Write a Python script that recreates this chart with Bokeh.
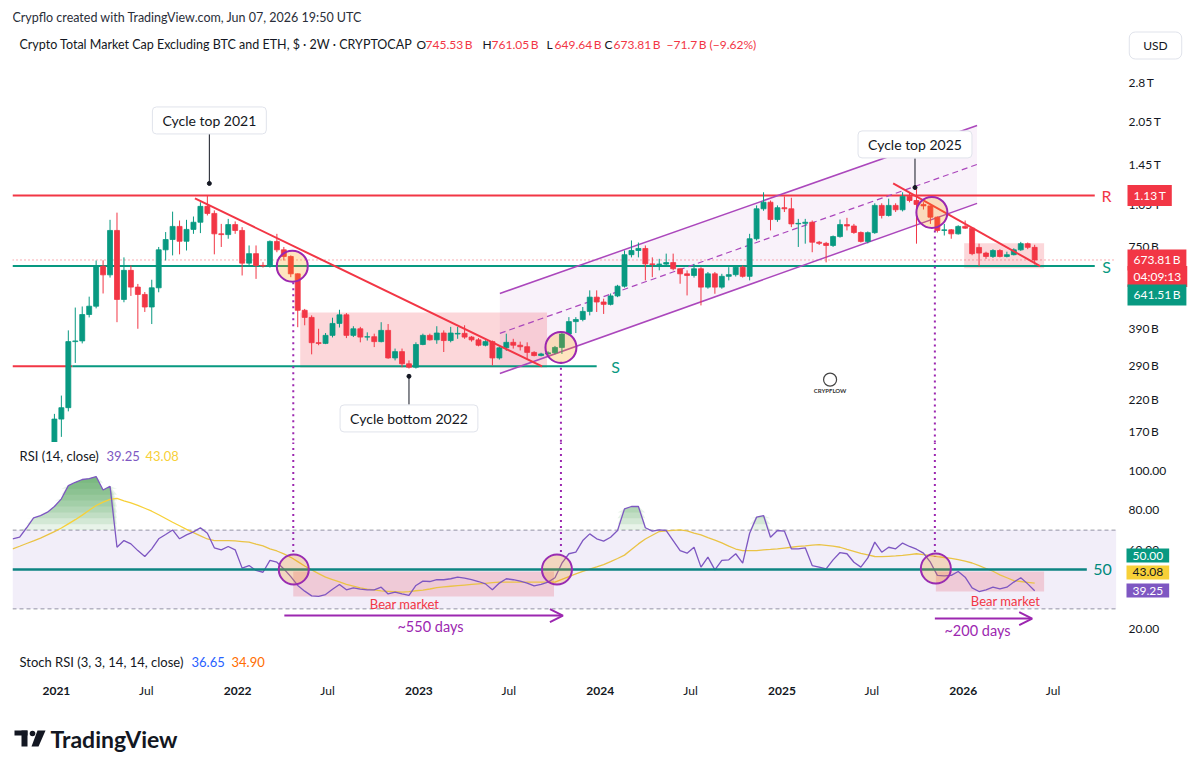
import numpy as np
import pandas as pd
from bokeh.plotting import figure
from bokeh.layouts import column
from bokeh.models import (ColumnDataSource, Range1d, FixedTicker, CustomJSTickFormatter,
                          NumeralTickFormatter, Label, BoxAnnotation, Arrow, OpenHead)
from bokeh.core.properties import value
from bokeh.embed import file_html
from bokeh.resources import INLINE

FONT = "Lato"
TXT = "#131722"
GREEN = "#089981"
RED = "#f23645"
PURPLE = "#9c27b0"
CHAN = "#ab47bc"
RSI_C = "#7e57c2"
MA_C = "#f7d038"
TEAL = "#00897b"

# ---------------- data (values in billions USD, 2-week candles) ----------------
open_ = [90, 93, 97, 108, 121, 124, 138, 188, 206, 350,
         352, 435, 465, 641, 598, 854, 491, 620, 542, 511,
         462, 539, 731, 794, 882, 783, 861, 912, 1036, 979,
         831, 826, 895, 854, 657, 709, 645, 642, 782, 731,
         693, 603, 450, 425, 347, 345, 368, 405, 434, 368,
         388, 363, 364, 350, 383, 307, 323, 293, 285, 342,
         368, 355, 375, 353, 372, 374, 363, 355, 340, 350,
         307, 333, 348, 340, 336, 321, 313, 317, 320, 334,
         372, 411, 418, 446, 500, 481, 472, 505, 546, 703,
         727, 739, 653, 650, 652, 660, 628, 603, 595, 628,
         542, 603, 542, 591, 599, 636, 591, 799, 1016, 1071,
         932, 1025, 1016, 900, 904, 912, 777, 770, 757, 813,
         895, 885, 840, 782, 839, 1044, 963, 1044, 1008, 1122,
         1086, 1052, 1040, 950, 854, 858, 831, 882, 870, 745,
         712, 693, 727, 693, 703, 731, 768, 745.53]
high = [96, 99, 112, 125, 128, 142, 196, 227, 383, 460,
        464, 502, 671, 672, 930, 985, 688, 645, 556, 521,
        575, 748, 843, 993, 925, 930, 955, 1071, 1131, 1003,
        900, 937, 918, 877, 757, 757, 662, 788, 831, 748,
        699, 605, 455, 432, 388, 375, 424, 452, 440, 396,
        394, 377, 373, 409, 403, 331, 331, 301, 348, 373,
        373, 396, 383, 394, 394, 399, 366, 360, 354, 353,
        337, 373, 358, 350, 348, 324, 320, 324, 338, 379,
        426, 426, 462, 528, 528, 494, 515, 552, 727, 788,
        775, 757, 688, 680, 709, 709, 630, 620, 653, 636,
        612, 612, 603, 636, 645, 645, 831, 1044, 1160, 1086,
        1044, 1122, 1110, 937, 937, 925, 785, 779, 820, 932,
        945, 900, 847, 847, 1062, 1062, 1102, 1062, 1160, 1160,
        1190, 1071, 1044, 955, 900, 864, 890, 925, 877, 768,
        720, 735, 735, 720, 740, 779, 775, 761.05]
low = [86, 90, 95, 104, 114, 120, 132, 163, 200, 295,
       345, 425, 457, 515, 585, 409, 480, 505, 388, 444,
       403, 520, 671, 699, 705, 727, 831, 836, 963, 705,
       748, 799, 831, 595, 640, 579, 634, 634, 717, 671,
       587, 393, 399, 316, 340, 343, 362, 392, 360, 363,
       348, 353, 335, 348, 305, 301, 285, 282, 282, 340,
       353, 344, 322, 348, 358, 358, 350, 337, 337, 289,
       303, 325, 331, 326, 305, 311, 311, 315, 316, 317,
       368, 375, 412, 432, 444, 437, 468, 500, 540, 688,
       688, 572, 587, 620, 640, 620, 557, 507, 585, 468,
       535, 514, 535, 572, 590, 585, 572, 788, 1000, 854,
       915, 990, 877, 748, 768, 717, 760, 661, 748, 806,
       854, 831, 775, 770, 831, 940, 955, 990, 995, 1070,
       768, 1010, 900, 840, 820, 799, 826, 865, 700, 641,
       680, 685, 688, 688, 699, 725, 735, 649.64]
close = [93, 97, 108, 121, 124, 138, 188, 206, 350, 352,
         435, 465, 641, 598, 854, 491, 620, 542, 511, 462,
         539, 731, 794, 882, 783, 861, 912, 1036, 979, 831,
         826, 895, 854, 657, 709, 645, 642, 782, 731, 693,
         603, 450, 425, 347, 345, 368, 405, 434, 368, 388,
         363, 364, 350, 383, 307, 323, 293, 285, 342, 368,
         355, 375, 353, 375, 374, 363, 355, 340, 350, 307,
         333, 348, 340, 336, 321, 313, 317, 320, 334, 372,
         411, 418, 446, 500, 481, 472, 505, 546, 703, 727,
         739, 653, 650, 652, 660, 628, 603, 595, 628, 542,
         603, 542, 591, 599, 636, 591, 799, 1016, 1071, 932,
         1025, 1016, 900, 904, 912, 777, 770, 757, 813, 895,
         885, 840, 782, 839, 1044, 963, 1044, 1008, 1122, 1086,
         1052, 1040, 950, 854, 858, 831, 882, 870, 709, 712,
         693, 727, 693, 703, 731, 768, 745.53, 673.81]
rsi_vals = [65.6, 66.4, 71.2, 76.2, 77.4, 79.1, 82.0, 85.9, 92.6, 94.3,
            95.7, 96.2, 97.2, 90.4, 92.3, 61.3, 64.7, 63.0, 59.6, 56.6,
            60.5, 65.6, 67.8, 70.1, 65.6, 67.6, 69.1, 71.2, 68.4, 61.0,
            60.0, 61.7, 60.0, 50.7, 52.0, 49.5, 48.6, 54.6, 53.7, 50.3,
            46.4, 41.9, 39.0, 36.6, 36.3, 37.3, 40.0, 42.4, 39.7, 40.7,
            40.0, 39.7, 39.7, 41.0, 37.6, 38.5, 37.6, 36.8, 41.9, 44.1,
            43.9, 44.8, 44.8, 45.3, 46.1, 45.6, 44.8, 43.9, 42.7, 39.7,
            43.1, 45.3, 44.8, 44.1, 43.1, 41.7, 42.4, 43.6, 45.8, 53.2,
            58.0, 58.8, 64.7, 68.1, 65.6, 64.4, 66.4, 69.8, 80.8, 82.0,
            82.0, 71.2, 69.5, 70.1, 69.8, 64.7, 59.6, 58.3, 61.3, 51.2,
            56.3, 49.8, 54.6, 54.9, 58.0, 53.2, 68.4, 76.6, 77.4, 66.4,
            69.8, 69.5, 60.5, 60.5, 61.0, 52.0, 51.2, 50.3, 54.9, 58.6,
            58.0, 53.7, 51.2, 55.9, 63.9, 58.8, 61.3, 60.5, 63.4, 61.7,
            60.3, 58.3, 53.7, 47.0, 46.8, 47.0, 49.0, 46.1, 40.7, 38.8,
            39.7, 41.0, 40.2, 41.0, 43.6, 45.8, 42.7, 39.25]
rsi_ma = [60.5, 61.8, 63.2, 64.5, 65.9, 67.6, 69.2, 71.1, 73.2, 75.3,
          77.6, 80.1, 82.5, 84.2, 85.6, 86.1, 84.9, 83.8, 82.6, 81.1,
          79.6, 77.8, 75.9, 74.0, 72.2, 70.4, 68.7, 67.1, 65.5, 64.7,
          64.7, 64.7, 64.5, 64.2, 63.9, 62.9, 62.0, 60.5, 59.4, 57.9,
          56.2, 54.0, 51.8, 49.8, 47.9, 46.1, 44.9, 43.7, 42.5, 41.6,
          40.7, 40.0, 39.6, 39.1, 38.9, 38.7, 38.5, 38.8, 39.2, 39.5,
          40.1, 40.8, 41.2, 41.5, 41.8, 42.1, 42.4, 42.7, 43.0, 43.3,
          43.6, 43.6, 43.6, 43.6, 43.6, 43.6, 43.6, 43.6, 43.6, 45.0,
          46.4, 47.8, 49.0, 50.2, 51.3, 52.5, 54.0, 55.6, 57.3, 60.2,
          63.0, 65.5, 67.4, 69.3, 69.6, 69.9, 70.1, 69.6, 68.5, 67.6,
          66.2, 64.9, 63.5, 61.9, 60.4, 59.6, 59.6, 59.6, 60.0, 60.2,
          60.5, 60.9, 61.3, 61.7, 62.0, 62.4, 62.6, 62.3, 61.9, 61.3,
          60.2, 59.2, 58.2, 57.4, 56.6, 56.5, 56.7, 56.9, 57.2, 57.6,
          58.0, 57.6, 57.0, 56.5, 56.1, 55.7, 55.0, 54.2, 53.3, 52.0,
          50.5, 49.1, 47.3, 45.8, 44.3, 43.9, 43.5, 43.08]

dates = pd.date_range("2020-10-05", periods=len(close), freq="14D")

price_ticks = [170, 220, 290, 390, 750, 1050, 1450, 2050, 2800]
rsi_ticks = [20, 40, 60, 80, 100]
x_tick_dates = ["2021-01-01", "2021-07-01", "2022-01-01", "2022-07-01", "2023-01-01",
                "2023-07-01", "2024-01-01", "2024-07-01", "2025-01-01", "2025-07-01",
                "2026-01-01", "2026-07-01"]
x_tick_labels = ["2021", "Jul", "2022", "Jul", "2023", "Jul", "2024", "Jul", "2025", "Jul", "2026", "Jul"]

# drawings (dates, billions)
r_level = 1130
s_level = 641.51
s_low_level = 287
last_price = 673.81
trend1_dates, trend1_vals = ["2021-10-07", "2023-09-06"], [1104, 287]
trend2_dates, trend2_vals = ["2025-08-13", "2026-06-05"], [1245, 641.5]
chan_dates = ["2023-06-13", "2026-01-29"]
chan_top, chan_mid, chan_bot = [515, 1983], [374, 1450], [271, 1061]
zone_left, zone_right = ["2022-05-07", "2026-01-03"], ["2023-09-16", "2026-06-13"]
zone_bot, zone_top = [284, 630], [442, 770]
circ_dates, circ_vals = ["2022-04-21", "2023-10-14", "2025-10-30"], [641, 334, 987]
vline_dates = ["2022-04-23", "2023-10-14", "2025-11-05"]
vline_main_top = [563, 298, 854]
vline_rsi_bot = [57.1, 57.6, 56.6]
call_dates = ["2021-11-05", "2022-12-12", "2025-09-26"]
call_texts = ["Cycle top 2021", "Cycle bottom 2022", "Cycle top 2025"]
call_dot = [1245, 265, 1205]
call_edge = [1860, 211, 1522]
call_box = [2064, 189, 1703]
rsi_circ_dates, rsi_circ_vals = ["2022-04-24", "2023-10-06", "2025-11-07"], [50, 50, 50.5]
rsi_zone_left, rsi_zone_right = ["2022-04-23", "2025-11-07"], ["2023-09-30", "2026-06-13"]
rsi_zone_bot, rsi_zone_top = [36.3, 38.8], [49, 49]
arrow_start, arrow_end, arrow_level = ["2022-04-05", "2025-11-05"], ["2023-10-18", "2026-05-20"], [26.6, 25.1]


def ms(s):
    return pd.Timestamp(s).value / 1e6


def dts(lst):
    return pd.to_datetime(lst)


W = 1200
LB, RB = 12, 10
X_START, X_END = "2020-10-04 14:00", "2027-04-03 19:00"
PANE_END = "2026-11-05"          # where the price scale column begins
XR = Range1d(pd.Timestamp(X_START), pd.Timestamp(X_END))


def base_fig(h, yr, y_type="linear", yaxis=True):
    p = figure(width=W, height=h, x_range=XR, y_range=yr, y_axis_type=y_type,
               x_axis_type="datetime", x_axis_location=None,
               y_axis_location="right" if yaxis else None,
               output_backend="svg", toolbar_location=None, tools="",
               min_border_left=LB, min_border_right=RB, min_border_top=0, min_border_bottom=0)
    p.outline_line_color = None
    p.grid.visible = False
    p.background_fill_color = "white"
    p.border_fill_color = "white"
    return p


def blank_fig(h):
    # frame spans page x 12..1190, so data x equals page x
    p = figure(width=W, height=h, x_range=Range1d(LB, W - RB), y_range=Range1d(0, h),
               x_axis_location=None, y_axis_location=None, output_backend="svg",
               toolbar_location=None, tools="", min_border_left=LB, min_border_right=RB,
               min_border_top=0, min_border_bottom=0)
    p.outline_line_color = None
    p.grid.visible = False
    return p


def style_axis(ax):
    ax.axis_line_color = None
    ax.major_tick_line_color = None
    ax.minor_tick_line_color = None
    ax.major_tick_out = 0
    ax.major_tick_in = 0
    ax.major_label_standoff = -62
    ax.major_label_text_font = FONT
    ax.major_label_text_font_size = "12px"
    ax.major_label_text_color = TXT


def add_label(p, x, y, text, color=TXT, size=12, style="normal", align="left",
              baseline="middle", xu="screen", yu="screen", bg=None, border=None,
              pad=None, radius=0):
    kw = {}
    if bg:
        kw["background_fill_color"] = bg
    if border:
        kw["border_line_color"] = border
    if pad is not None:
        kw["padding"] = pad
    if radius:
        kw["border_radius"] = radius
    p.add_layout(Label(x=x, y=y, x_units=xu, y_units=yu, text=text, text_color=color,
                       text_font=FONT, text_font_size=f"{size}px", text_font_style=style,
                       text_align=align, text_baseline=baseline, **kw))


def box_pad(v, h):
    return dict(left=h, right=h, top=v, bottom=v)

# ---------------- header ----------------
hdr = blank_fig(28)
add_label(hdr, 12, 11, "Crypflo created with TradingView.com, Jun 07, 2026 19:50 UTC",
          size=12.5, xu="data", yu="data", color="#2a2e39")

# ---------------- main price pane ----------------
main = base_fig(414, Range1d(155.8, 4316), "log")
ax = main.yaxis[0]
ax.ticker = FixedTicker(ticks=price_ticks)
ax.formatter = CustomJSTickFormatter(
    code="return tick >= 1000 ? (tick/1000) + '\u2009T' : tick + '\u2009B';")
style_axis(ax)

# channel fill + pink zones
main.patch(x=dts([chan_dates[0], chan_dates[1], chan_dates[1], chan_dates[0]]),
           y=[chan_top[0], chan_top[1], chan_bot[1], chan_bot[0]],
           fill_color=PURPLE, fill_alpha=0.06, line_color=None)
main.quad(left=dts(zone_left), right=dts(zone_right), bottom=zone_bot, top=zone_top,
          fill_color=RED, fill_alpha=0.2, line_color=None)

# horizontal levels
main.segment(x0=dts([X_START]), y0=[last_price], x1=dts([PANE_END]), y1=[last_price],
             line_color=RED, line_dash="1 3", line_width=1, line_alpha=0.8)
main.segment(x0=dts([X_START, X_START]), y0=[r_level, s_level],
             x1=dts(["2026-09-23", "2026-09-23"]), y1=[r_level, s_level],
             line_color=[RED, GREEN], line_width=2)
main.segment(x0=dts([X_START]), y0=[s_low_level], x1=dts(["2021-02-02"]), y1=[s_low_level],
             line_color=RED, line_width=2)
main.segment(x0=dts(["2021-02-02"]), y0=[s_low_level], x1=dts(["2023-12-25"]), y1=[s_low_level],
             line_color=GREEN, line_width=2)

# channel lines
main.line(dts(chan_dates), chan_top, line_color=CHAN, line_width=1.5)
main.line(dts(chan_dates), chan_bot, line_color=CHAN, line_width=1.5)
main.line(dts(chan_dates), chan_mid, line_color=CHAN, line_width=1.2, line_dash="6 4")

# candles
colors = [GREEN if c >= o else RED for o, c in zip(open_, close)]
src = ColumnDataSource(dict(date=dates, o=open_, h=high, l=low, c=close,
                            top=np.maximum(open_, close), bot=np.minimum(open_, close),
                            color=colors))
main.segment(x0="date", y0="h", x1="date", y1="l", line_color="color", line_width=1, source=src)
main.vbar(x="date", width=10 * 86400000, top="top", bottom="bot", fill_color="color",
          line_color="color", line_width=0.8, source=src)

# trend lines
main.line(dts(trend1_dates), trend1_vals, line_color=RED, line_width=2)
main.line(dts(trend2_dates), trend2_vals, line_color=RED, line_width=2)

# dotted verticals + circles
main.segment(x0=dts(vline_dates), y0=vline_main_top, x1=dts(vline_dates), y1=[140] * 3,
             line_color=PURPLE, line_width=2, line_dash="2 4")
main.scatter(dts(circ_dates), circ_vals, marker="circle", size=31, fill_color="#ff9800",
             fill_alpha=0.25, line_color=PURPLE, line_width=2)

# callouts
main.segment(x0=dts(call_dates), y0=call_dot, x1=dts(call_dates), y1=call_edge,
             line_color=TXT, line_width=1)
main.scatter(dts(call_dates), call_dot, size=4, color=TXT)
for d, t, v in zip(call_dates, call_texts, call_box):
    add_label(main, ms(d), v, t, size=14, align="center", xu="data", yu="data",
              bg="white", border="#e0e3eb", pad=box_pad(5, 10), radius=4)

# watermark
main.scatter([pd.Timestamp("2025-04-08")], [258], marker="circle", size=13,
             fill_color=None, line_color="#444", line_width=1.2)
main.text(x=[pd.Timestamp("2025-04-08")], y=[236], text=["CRYPFLOW"], text_font=value(FONT),
          text_font_size="6px", text_font_style="bold", text_align="center",
          text_baseline="middle", text_color="#333")

# legend line
add_label(main, 7, 398, "Crypto Total Market Cap Excluding BTC and ETH, $ \u00b7 2W \u00b7 CRYPTOCAP", size=12.5)
for x, t, c in [(404, "O", TXT), (413, "745.53\u2009B", RED), (470, "H", TXT), (479, "761.05\u2009B", RED),
                (534, "L", TXT), (542, "649.64\u2009B", RED), (592, "C", TXT), (601, "673.81\u2009B", RED),
                (654, "\u221271.7\u2009B (\u22129.62%)", RED)]:
    add_label(main, x, 398, t, color=c, size=12)

# right side labels
add_label(main, 1143, 397, "USD", size=12, align="center", bg="white", border="#e0e3eb",
          pad=box_pad(6, 14), radius=6)
add_label(main, 1094, r_level, "R", color=RED, size=16, align="center", yu="data")
add_label(main, 1094, s_level, "S", color=GREEN, size=16, align="center", yu="data")
add_label(main, 603, s_low_level, "S", color=GREEN, size=16, align="center", yu="data")
add_label(main, 1115, r_level, "1.13\u2009T", color="white", size=12, yu="data", bg=RED, pad=box_pad(3, 6))
add_label(main, 1115, 590, "04:09:13", color="white", size=12, yu="data", bg=RED, pad=box_pad(3, 6))
add_label(main, 1115, last_price, "673.81\u2009B", color="white", size=12, yu="data", bg=RED, pad=box_pad(3, 6))
add_label(main, 1115, 509, "641.51\u2009B", color="white", size=12, yu="data", bg=GREEN, pad=box_pad(3, 6))

# ---------------- RSI pane ----------------
rsi = base_fig(203, Range1d(11.4, 114.5))
ax = rsi.yaxis[0]
ax.ticker = FixedTicker(ticks=rsi_ticks)
ax.formatter = NumeralTickFormatter(format="0.00")
style_axis(ax)

rsi.add_layout(BoxAnnotation(bottom=30, top=70, right=ms(PANE_END), fill_color=RSI_C,
                             fill_alpha=0.1, line_color=None))
rsi.segment(x0=dts([X_START, X_START]), y0=[70, 30], x1=dts([PANE_END, PANE_END]), y1=[70, 30],
            line_color="#9598a1", line_dash="4 3", line_width=1)
rv = np.array(rsi_vals)
for t in [70, 73, 76, 79, 82, 85, 88, 91, 94]:
    rsi.varea(x=dates, y1=t, y2=np.maximum(rv, t), fill_color="#43a047", fill_alpha=0.12)
rsi.quad(left=dts(rsi_zone_left), right=dts(rsi_zone_right), bottom=rsi_zone_bot, top=rsi_zone_top,
         fill_color=RED, fill_alpha=0.2, line_color=None)
rsi.line(dates, rsi_ma, line_color=MA_C, line_width=1.3)
rsi.line(dates, rsi_vals, line_color=RSI_C, line_width=1.3)
rsi.segment(x0=dts([X_START]), y0=[50], x1=dts(["2026-09-07"]), y1=[50], line_color=TEAL, line_width=2.5)
rsi.segment(x0=dts(vline_dates), y0=[130] * 3, x1=dts(vline_dates), y1=vline_rsi_bot,
            line_color=PURPLE, line_width=2, line_dash="2 4")
rsi.scatter(dts(rsi_circ_dates), rsi_circ_vals, marker="circle", size=30, fill_color="#ff9800",
            fill_alpha=0.25, line_color=PURPLE, line_width=2)
for a, b, lv in zip(arrow_start, arrow_end, arrow_level):
    rsi.add_layout(Arrow(x_start=ms(a), y_start=lv, x_end=ms(b), y_end=lv, line_color=PURPLE,
                         line_width=2, end=OpenHead(size=13, line_color=PURPLE, line_width=2)))

add_label(rsi, 7, 190, "RSI (14, close)", size=13)
add_label(rsi, 94, 190, "39.25", color=RSI_C, size=13)
add_label(rsi, 133, 190, "43.08", color=MA_C, size=13)
add_label(rsi, 392, 42, "Bear market", color=RED, size=13, align="center")
add_label(rsi, 418, 19, "~550 days", color=PURPLE, size=14.5, align="center")
add_label(rsi, 993, 45, "Bear market", color=RED, size=13, align="center")
add_label(rsi, 965, 15, "~200 days", color=PURPLE, size=14.5, align="center")
add_label(rsi, 1090, 50, "50", color=TEAL, size=16, align="center", yu="data")
add_label(rsi, 1114, 57.1, "50.00", color="white", size=12, yu="data", bg=GREEN, pad=box_pad(3, 6))
add_label(rsi, 1114, 48.5, "43.08", color=TXT, size=12, yu="data", bg=MA_C, pad=box_pad(3, 6))
add_label(rsi, 1114, 39.3, "39.25", color="white", size=12, yu="data", bg=RSI_C, pad=box_pad(3, 6))

# ---------------- Stoch RSI pane + time axis ----------------
st = base_fig(60, Range1d(0, 60), yaxis=False)
add_label(st, 7, 44, "Stoch RSI (3, 3, 14, 14, close)", size=13)
add_label(st, 179, 44, "36.65", color="#2962ff", size=13)
add_label(st, 219, 44, "34.90", color="#ff6d00", size=13)
tick_src = ColumnDataSource(dict(x=dts(x_tick_dates), y=[15] * len(x_tick_dates), t=x_tick_labels,
                                 s=["bold" if l != "Jul" else "normal" for l in x_tick_labels]))
st.text(x="x", y="y", text="t", text_font_style="s", source=tick_src, text_font=value(FONT),
        text_font_size="12px", text_color=TXT, text_align="center", text_baseline="middle")

# ---------------- footer logo ----------------
ftr = blank_fig(48)
ftr.quad(left=[14, 21], right=[27, 27], bottom=[18, 7], top=[23, 23], fill_color="#131722", line_color=None)
ftr.circle(x=[32], y=[20], radius=2.8, fill_color="#131722", line_color=None)
ftr.patch(x=[37, 45, 38, 31], y=[23, 23, 7, 7], fill_color="#131722", line_color=None)
add_label(ftr, 50, 15, "TradingView", color="#131722", size=23, style="bold", xu="data", yu="data")

layout = column(hdr, main, rsi, st, ftr, spacing=0)
open("out.html", "w").write(file_html(layout, INLINE))
